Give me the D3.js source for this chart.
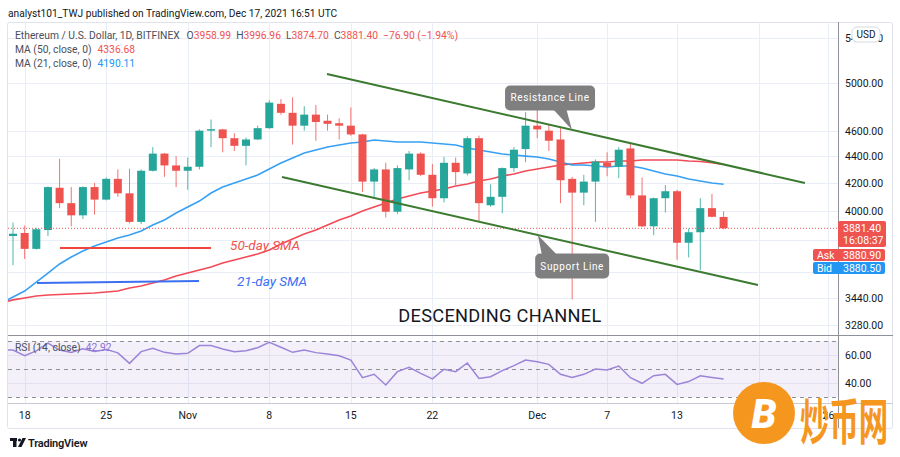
<!DOCTYPE html>
<html><head><meta charset="utf-8">
<script src="https://cdn.jsdelivr.net/npm/d3@7/dist/d3.min.js"></script>
<style>
html,body{margin:0;padding:0;background:#fff;}
svg{display:block;font-family:Roboto,"Liberation Sans",sans-serif;}
</style></head><body>
<svg id="c" width="900" height="457"></svg>
<script>
// ---- data (day index 0 = Oct 17, 2021) ----
const opens  = [3830,3850,3745,3870,4165,4055,3970,4170,4080,4230,4125,3925,4290,4420,4330,4290,4320,4600,4610,4540,4480,4530,4620,4820,4745,4640,4730,4680,4660,4640,4570,4210,4300,3995,4300,4420,4260,4090,4350,4270,4540,4040,4100,4310,4455,4640,4600,4530,4230,4130,4210,4350,4320,4460,4110,3895,4090,4140,3785,3855,4020,3958.99];
const highs  = [3920,3900,3885,4175,4380,4170,4175,4200,4240,4300,4305,4300,4470,4425,4400,4390,4610,4690,4615,4580,4545,4640,4850,4860,4875,4800,4810,4730,4700,4790,4575,4310,4350,4330,4440,4430,4340,4395,4390,4555,4560,4190,4315,4470,4750,4790,4650,4620,4245,4260,4375,4430,4470,4500,4240,4095,4185,4150,3880,4090,4120,3996.96];
const lows   = [3640,3680,3740,3830,4020,3895,3945,3975,4075,4100,3915,3910,4285,4245,4170,4150,4300,4470,4430,4440,4330,4525,4615,4730,4490,4600,4520,4600,4530,4560,4135,4100,3955,3980,4220,4250,4030,4060,4185,4255,3925,4030,3985,4280,4355,4540,4440,4055,3430,4040,3925,4250,4235,4090,3890,3835,3990,3675,3690,3610,3955,3874.70];
const closes = [3845,3745,3875,4170,4055,3970,4170,4080,4230,4125,3925,4290,4420,4330,4290,4320,4600,4612,4540,4480,4530,4620,4830,4745,4640,4730,4670,4655,4640,4570,4210,4300,3995,4310,4420,4260,4090,4350,4280,4540,4055,4100,4310,4450,4640,4610,4520,4220,4130,4210,4360,4320,4450,4110,3895,4090,4140,3785,3855,4020,3960,3881.40];
// moving averages and RSI, first value = day -1
const ma50 = [3409,3427,3438,3450,3456,3459,3462,3465,3468,3474,3480,3499,3511,3529,3548,3573,3591,3610,3629,3654,3673,3692,3712,3738,3777,3810,3843,3870,3904,3938,3965,4000,4028,4056,4084,4106,4127,4142,4156,4178,4192,4214,4229,4251,4266,4288,4303,4318,4333,4341,4348,4356,4356,4363,4363,4371,4371,4371,4371,4363,4360,4350,4337];
const ma21 = [3409,3444,3480,3535,3591,3648,3692,3731,3764,3790,3816,3836,3863,3904,3938,3986,4028,4070,4127,4170,4200,4229,4258,4303,4348,4386,4424,4448,4471,4487,4502,4510,4526,4518,4510,4510,4510,4502,4494,4487,4463,4448,4432,4417,4409,4401,4394,4379,4356,4333,4333,4326,4318,4326,4326,4311,4288,4266,4251,4229,4214,4200,4190];
const rsi  = [63.5,63.6,59.5,62.9,68.5,63.5,61.8,64.5,62.5,64.0,61.5,54.0,62.4,64.8,61.9,60.7,61.2,66.7,66.7,64.3,62.4,63.1,65.2,69.0,65.5,61.9,63.6,61.7,60.7,59.5,56.4,43.8,46.2,38.6,48.1,51.2,46.9,42.9,49.8,48.1,54.3,43.3,44.5,48.8,52.4,56.4,55.2,53.3,46.2,44.0,46.2,50.0,49.3,52.1,43.8,39.8,45.2,46.2,39.0,41.0,45.2,44.0,42.92];
const tickDays   = [1,8,15,22,29,36,45,51,57,64,70];
const tickLabels = ["18","25","Nov","8","15","22","Dec","7","13","20","26"];
const priceTicks = [5400,5000,4600,4400,4200,4000,3440,3280];
const priceGridOnly = [3800,3600];
const rsiTicks = [60,40];
const rsiLevels = [70,50,30];
// drawings: channel lines, SMA notes
const channelUpper = [{d:26.95,p:5076},{d:67.98,p:4200}];
const channelLower = [{d:23.09,p:4244},{d:63.95,p:3517}];
const note50 = [{d:4.03,p:3751},{d:17.0,p:3751}];
const note21 = [{d:2.06,p:3529},{d:15.97,p:3541}];
const lastPrice = 3881.40;

// ---- scales ----
const svg = d3.select("#c");
const L=8,R=838,T=22,MB=335,RT=335,RB=403;
const x = d3.scaleLinear().domain([-0.43,70.82]).range([L,R]);
const y = d3.scaleLog().domain([3224,5557]).range([MB,T]);
const yr = d3.scaleLinear().domain([30,70]).range([397,341]);
const GREEN="#26a69a", RED="#ef5350";

svg.append("rect").attr("width",900).attr("height",457).attr("fill","#fff");
const defs = svg.append("defs");
defs.append("clipPath").attr("id","cm").append("rect").attr("x",L).attr("y",T).attr("width",R-L).attr("height",MB-T);
defs.append("clipPath").attr("id","cr").append("rect").attr("x",L).attr("y",RT).attr("width",R-L).attr("height",RB-RT);

// header
svg.append("text").attr("x",8).attr("y",17).attr("font-size",10.2).attr("fill","#131722")
  .text("analyst101_TWJ published on TradingView.com, Dec 17, 2021 16:51 UTC");
svg.append("rect").attr("x",7.5).attr("y",22.5).attr("width",885).attr("height",406).attr("fill","none").attr("stroke","#e0e3eb").attr("rx",2);

// grid
const grid = svg.append("g").attr("stroke","#e9eef6").attr("stroke-width",1);
tickDays.forEach(d=>{
  const xx=Math.round(x(d))+0.5;
  grid.append("line").attr("x1",xx).attr("x2",xx).attr("y1",T).attr("y2",RB);
});
priceTicks.concat(priceGridOnly).forEach(p=>{
  const yy=Math.round(y(p))+0.5;
  grid.append("line").attr("x1",L).attr("x2",R).attr("y1",yy).attr("y2",yy);
});

const main = svg.append("g").attr("clip-path","url(#cm)");
const line = d3.line().x(d=>x(d.d)).y(d=>y(d.p));
main.append("path").datum(ma50.map((v,i)=>({d:i-1,p:v}))).attr("d",line).attr("fill","none").attr("stroke","#f23645").attr("stroke-width",1.6).attr("opacity",0.9);
main.append("path").datum(ma21.map((v,i)=>({d:i-1,p:v}))).attr("d",line).attr("fill","none").attr("stroke","#2196f3").attr("stroke-width",1.6).attr("opacity",0.9);

// candles
const cg = main.append("g");
closes.forEach((c,i)=>{
  const o=opens[i], col = c>=o?GREEN:RED, xx=x(i);
  cg.append("line").attr("x1",xx).attr("x2",xx).attr("y1",y(highs[i])).attr("y2",y(lows[i])).attr("stroke",col).attr("stroke-width",1).attr("opacity",0.8);
  const y0=y(Math.max(o,c)), y1=y(Math.min(o,c));
  cg.append("rect").attr("x",xx-4).attr("width",8).attr("y",y0).attr("height",Math.max(1.2,y1-y0)).attr("fill",col);
});

// last price dotted
main.append("line").attr("x1",L).attr("x2",R).attr("y1",y(lastPrice)).attr("y2",y(lastPrice))
  .attr("stroke",RED).attr("stroke-dasharray","1,2").attr("stroke-width",1);

// channel
[channelUpper,channelLower].forEach(ch=>{
  main.append("path").datum(ch).attr("d",line).attr("stroke","#3b7a2f").attr("stroke-width",2).attr("fill","none");
});
// SMA notes
main.append("path").datum(note50).attr("d",line).attr("stroke","#f0453a").attr("stroke-width",2);
main.append("path").datum(note21).attr("d",line).attr("stroke","#3b6ff0").attr("stroke-width",2);
main.append("text").attr("x",x(18.63)).attr("y",y(3738)).attr("font-size",13.5).attr("font-style","italic").attr("fill","#f0524f").text("50-day SMA");
main.append("text").attr("x",x(19.23)).attr("y",y(3511)).attr("font-size",13.5).attr("font-style","italic").attr("fill","#3d6ef5").text("21-day SMA");
main.append("text").attr("x",x(41.8)).attr("y",y(3300)).attr("text-anchor","middle").attr("font-size",18.2).attr("fill","#131722").attr("letter-spacing",0.3).text("DESCENDING CHANNEL");

// callouts
function callout(cx,cy,w,h,tip,base1,base2,label){
  const g=main.append("g");
  g.append("path").attr("d",`M${base1[0]},${base1[1]}L${tip[0]},${tip[1]}L${base2[0]},${base2[1]}Z`).attr("fill","#7f7f7f");
  g.append("rect").attr("x",cx-w/2).attr("y",cy-h/2).attr("width",w).attr("height",h).attr("rx",5).attr("fill","#7f7f7f");
  g.append("text").attr("x",cx).attr("y",cy+3.5).attr("text-anchor","middle").attr("font-size",10).attr("letter-spacing",0.6).attr("fill","#fff").text(label);
}
{
  const cx=x(46.1), cy=y(4869);
  const tx=x(47.98), ty=d3.scaleLinear().domain([channelUpper[0].d,channelUpper[1].d]).range([y(channelUpper[0].p),y(channelUpper[1].p)])(47.98);
  callout(cx,cy,90,25,[tx,ty],[cx+2,cy+10],[cx+16,cy+10],"Resistance Line");
  const sx=x(48.0), sy=y(3635);
  const t2x=x(45.05), t2y=d3.scaleLinear().domain([channelLower[0].d,channelLower[1].d]).range([y(channelLower[0].p),y(channelLower[1].p)])(45.05);
  callout(sx,sy,74,25,[t2x,t2y],[sx-30,sy-10],[sx-14,sy-10],"Support Line");
}

// legend
const lg = svg.append("g").attr("font-size",10.3).attr("fill","#4a4f5c");
const t1 = lg.append("text").attr("x",15).attr("y",39);
t1.append("tspan").text("Ethereum / U.S. Dollar, 1D, BITFINEX");
[["O","3958.99"],["H","3996.96"],["L","3874.70"],["C","3881.40"]].forEach(([k,v],i)=>{
  t1.append("tspan").attr("dx",i==0?7:5).text(k);
  t1.append("tspan").attr("fill",RED).text(v);
});
t1.append("tspan").attr("dx",5).attr("fill",RED).text("\u221276.90 (\u22121.94%)");
const t2 = lg.append("text").attr("x",15).attr("y",53);
t2.append("tspan").text("MA (50, close, 0)");
t2.append("tspan").attr("dx",6).attr("fill",RED).text("4336.68");
const t3 = lg.append("text").attr("x",15).attr("y",67);
t3.append("tspan").text("MA (21, close, 0)");
t3.append("tspan").attr("dx",6).attr("fill","#2196f3").text("4190.11");

// RSI pane
const rg = svg.append("g");
rg.append("rect").attr("x",L).attr("width",R-L).attr("y",yr(70)).attr("height",yr(30)-yr(70)).attr("fill","#7e57c2").attr("opacity",0.09);
rsiTicks.forEach(v=>rg.append("line").attr("x1",L).attr("x2",R).attr("y1",yr(v)+0.5).attr("y2",yr(v)+0.5).attr("stroke","#e3e0ef"));
rsiLevels.forEach(v=>rg.append("line").attr("x1",L).attr("x2",R).attr("y1",yr(v)+0.5).attr("y2",yr(v)+0.5).attr("stroke","#8d8f99").attr("stroke-dasharray","4,4"));
rg.append("g").attr("clip-path","url(#cr)").append("path").datum(rsi.map((v,i)=>({d:i-1,v})))
  .attr("d",d3.line().x(d=>x(d.d)).y(d=>yr(d.v))).attr("fill","none").attr("stroke","#9c84d8").attr("stroke-width",1.5);
const rl = rg.append("text").attr("x",15).attr("y",351).attr("font-size",10.3).attr("fill","#4a4f5c");
rl.append("tspan").text("RSI (14, close)");
rl.append("tspan").attr("dx",5).attr("fill","#8e72d4").text("42.92");

// separators / axes
svg.append("line").attr("x1",L).attr("x2",893).attr("y1",MB+0.5).attr("y2",MB+0.5).attr("stroke","#8f929b");
svg.append("line").attr("x1",L).attr("x2",893).attr("y1",RB+0.5).attr("y2",RB+0.5).attr("stroke","#c7cad2");
svg.append("line").attr("x1",R+0.5).attr("x2",R+0.5).attr("y1",T).attr("y2",428).attr("stroke","#8f929b");

const ax = svg.append("g").attr("font-size",10.5).attr("fill","#131722");
priceTicks.forEach(p=>ax.append("text").attr("x",845).attr("y",y(p)+4).text(p.toFixed(2)));
rsiTicks.forEach(v=>ax.append("text").attr("x",845).attr("y",yr(v)+4).text(v.toFixed(2)));
tickDays.forEach((d,i)=>ax.append("text").attr("x",x(d)).attr("y",419).attr("text-anchor","middle").text(tickLabels[i]));

// USD box
svg.append("rect").attr("x",852).attr("y",27).attr("width",28).attr("height",15).attr("rx",5).attr("fill","#fff").attr("stroke","#d6d9e0");
svg.append("text").attr("x",866).attr("y",38).attr("text-anchor","middle").attr("font-size",10).attr("fill","#131722").text("USD");

// price label boxes
const pb = svg.append("g").attr("font-size",10.5).attr("fill","#fff");
pb.append("rect").attr("x",838).attr("y",221).attr("width",48).attr("height",26).attr("rx",2).attr("fill",RED);
pb.append("text").attr("x",843).attr("y",232).text(lastPrice.toFixed(2));
pb.append("text").attr("x",843).attr("y",244).text("16:08:37");
pb.append("rect").attr("x",813).attr("y",249).attr("width",72).attr("height",12).attr("rx",2).attr("fill",RED);
pb.append("text").attr("x",817).attr("y",259).text("Ask");
pb.append("text").attr("x",843).attr("y",259).text("3880.90");
pb.append("rect").attr("x",813).attr("y",262).attr("width",72).attr("height",12).attr("rx",2).attr("fill","#2196f3");
pb.append("text").attr("x",817).attr("y",272).text("Bid");
pb.append("text").attr("x",843).attr("y",272).text("3880.50");

// TradingView logo
const tv = svg.append("g").attr("fill","#131722");
tv.append("rect").attr("x",10).attr("y",438).attr("width",7).attr("height",3);
tv.append("rect").attr("x",13).attr("y",438).attr("width",3.5).attr("height",9);
tv.append("circle").attr("cx",19.5).attr("cy",440).attr("r",1.6);
tv.append("path").attr("d","M18,447L22.5,438L26,438L21.5,447Z");
tv.append("text").attr("x",28).attr("y",447).attr("font-size",11).attr("font-weight",600).attr("letter-spacing",-0.2).text("TradingView");

// watermark
const wm = svg.append("g");
wm.append("circle").attr("cx",764).attr("cy",413).attr("r",31).attr("fill","#f5961f");
wm.append("text").attr("x",764).attr("y",428).attr("text-anchor","middle").attr("font-size",40).attr("font-weight",900).attr("font-style","italic").attr("fill","#fff").attr("font-family","Roboto").text("B");
wm.append("text").attr("transform","translate(800,440) scale(0.92,1.55)").attr("font-size",32).attr("font-weight",700)
  .attr("font-family","'Noto Sans CJK SC'").attr("fill","#f5961f").text("炒币网");
</script>
</body></html>
